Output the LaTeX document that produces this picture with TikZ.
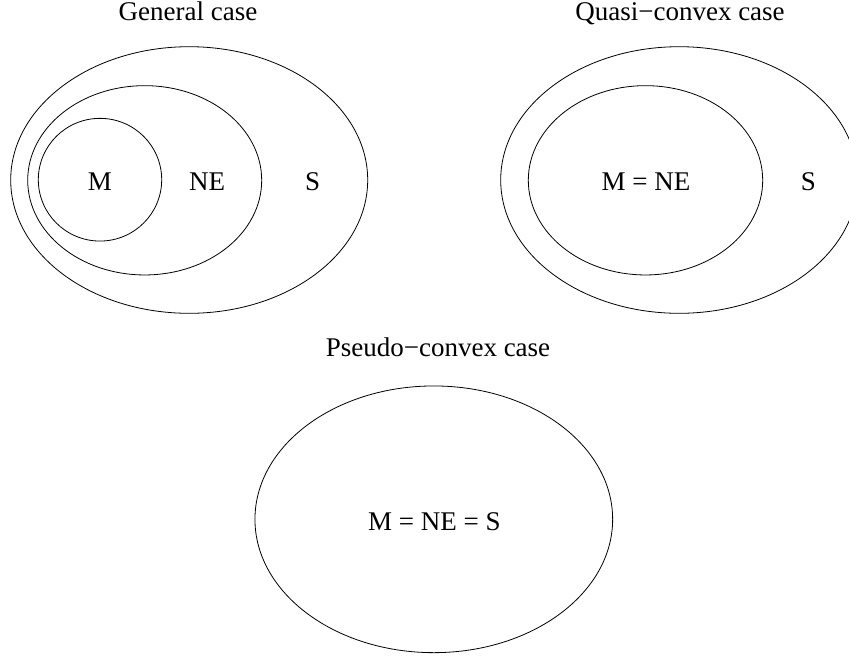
\documentclass[tikz,border=0pt]{standalone}
\usepackage{fontspec}
\setmainfont{Liberation Serif}
\usetikzlibrary{shapes.geometric}
\begin{document}
\begin{tikzpicture}[x=1pt,y=-1pt,
  set/.style={draw,ellipse,inner sep=0pt,outer sep=0pt,line width=0.8pt},
  lbl/.style={anchor=base,inner sep=0pt,font=\fontsize{27}{32}\selectfont}]
\useasboundingbox (0,0) rectangle (849,657);
% General case
\node[lbl] (t1) at (188,20) {General case};
\node[set,minimum width=357pt,minimum height=266.6pt] (gS) at (189.2,180) {};
\node[set,minimum width=234pt,minimum height=189.3pt] (gNE) at (144.7,180.3) {};
\node[set,minimum width=123.4pt,minimum height=122.7pt] (gM) at (100,179.7) {};
\node[lbl] (lM) at (100,190.7) {M};
\node[lbl] (lNE) at (207,190.7) {NE};
\node[lbl] (lS) at (312.7,190.7) {S};
% Quasi-convex case
\node[lbl] (t2) at (680,20) {Quasi−convex case};
\node[set,minimum width=357pt,minimum height=266.6pt] (qS) at (679.2,180) {};
\node[set,minimum width=234.4pt,minimum height=189.3pt] (qNE) at (645.5,180.3) {};
\node[lbl] (qlM) at (646,190.7) {M = NE};
\node[lbl] (qlS) at (808.3,190.7) {S};
% Pseudo-convex case
\node[lbl] (t3) at (438,356.7) {Pseudo−convex case};
\node[set,minimum width=357.7pt,minimum height=266.7pt] (pS) at (433.8,519.3) {};
\node[lbl] (plM) at (434.3,530.7) {M = NE = S};
\end{tikzpicture}
\end{document}
